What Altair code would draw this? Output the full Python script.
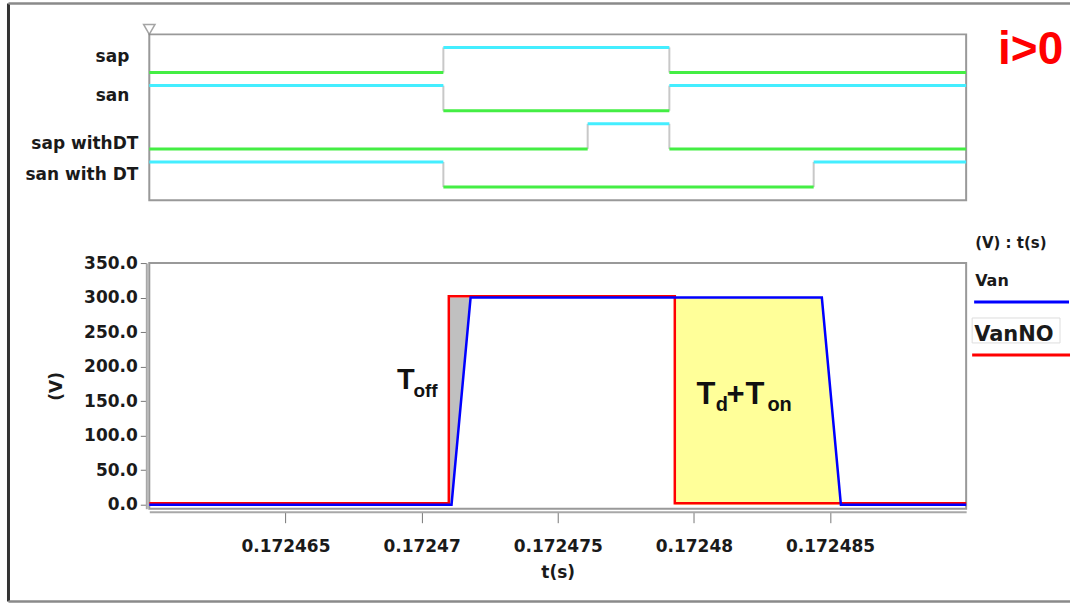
import altair as alt
import pandas as pd

# ---------------------------------------------------------------- data
T0, T1 = 0.17246, 0.17249                      # visible time window (s)
x_ticks = [0.172465, 0.17247, 0.172475, 0.17248, 0.172485]
y_ticks = [0, 50, 100, 150, 200, 250, 300, 350]

# gate signals: initial state and switching instants (s)
signal_names = ["sap", "san", "sap withDT", "san with DT"]
signal_initial = [0, 1, 0, 1]
signal_edges = [
    [0.1724708, 0.1724791],
    [0.1724708, 0.1724791],
    [0.1724761, 0.1724791],
    [0.1724708, 0.1724844],
]

# phase voltage with real switching (Van) and ideal one (VanNO)
van_t = [0.17246, 0.1724711, 0.1724718, 0.1724847, 0.1724854, 0.17249]
van_v = [0, 0, 300, 300, 0, 0]
vanno_t = [0.17246, 0.172471, 0.172471, 0.1724793, 0.1724793, 0.17249]
vanno_v = [2, 2, 302, 302, 2, 2]

# shaded voltage-error areas: level, left edge (VanNO), right edge (Van)
shade_level = [0, 300]
toff_left = [0.172471, 0.172471]
toff_right = [0.1724711, 0.1724718]
tdon_left = [0.1724793, 0.1724793]
tdon_right = [0.1724854, 0.1724847]

# ---------------------------------------------------------------- layout constants
W = 818
TOP_H = 166
BOT_H = 246
ROW_STEP = 1.52          # vertical distance between gate traces (in trace units)
FONT = "DejaVu Sans"
GREEN = "#44ee44"
CYAN = "#44eeff"


def one_row():
    return pd.DataFrame({"k": [0]})


# ---------------------------------------------------------------- gate traces
seg_rows, edge_rows = [], []
for k, (name, s0, edges) in enumerate(zip(signal_names, signal_initial, signal_edges)):
    base = (len(signal_names) - 1 - k) * ROW_STEP
    times = [T0] + edges + [T1]
    state = s0
    for a, b in zip(times[:-1], times[1:]):
        seg_rows.append({"name": name, "t": a, "t2": b, "lvl": base + state, "state": state})
        state = 1 - state
    for e in edges:
        edge_rows.append({"name": name, "t": e, "lo": base, "hi": base + 1})
segs = pd.DataFrame(seg_rows)
edges_df = pd.DataFrame(edge_rows)

# label baselines inside each trace row
label_offset = [0.41, 0.38, -0.01, 0.28]
labels = pd.DataFrame({
    "name": signal_names,
    "lvl": [(len(signal_names) - 1 - k) * ROW_STEP + off for k, off in enumerate(label_offset)],
    "short": [len(n) < 5 for n in signal_names],
})

xs_top = alt.Scale(domain=[T0, T1], nice=False, zero=False)
ys_top = alt.Scale(domain=[-0.52, 3 * ROW_STEP + 1.52], nice=False, zero=False)

edge_layer = alt.Chart(edges_df).mark_rule(color="#c8c8c8", strokeWidth=2).encode(
    x=alt.X("t:Q", scale=xs_top, axis=None),
    y=alt.Y("lo:Q", scale=ys_top, axis=None),
    y2="hi:Q",
)
seg_layer = alt.Chart(segs).mark_rule(strokeWidth=3).encode(
    x=alt.X("t:Q", scale=xs_top, axis=None),
    x2="t2:Q",
    y=alt.Y("lvl:Q", scale=ys_top, axis=None),
    color=alt.Color("state:N", scale=alt.Scale(domain=[0, 1], range=[GREEN, CYAN]), legend=None),
)
label_short = alt.Chart(labels).transform_filter("datum.short").mark_text(
    align="right", baseline="alphabetic", font=FONT, fontWeight="bold", fontSize=17, color="#1a1a1a"
).encode(x=alt.value(-20), y=alt.Y("lvl:Q", scale=ys_top, axis=None), text="name:N")
label_long = alt.Chart(labels).transform_filter("!datum.short").mark_text(
    align="right", baseline="alphabetic", font=FONT, fontWeight="bold", fontSize=17, color="#1a1a1a"
).encode(x=alt.value(-11), y=alt.Y("lvl:Q", scale=ys_top, axis=None), text="name:N")

cursor = alt.Chart(pd.DataFrame({"t": [T0]})).mark_point(
    shape="triangle-down", size=130, filled=False, color="#808080", strokeWidth=1.5
).encode(x=alt.X("t:Q", scale=xs_top, axis=None), y=alt.value(-5))

case_label = alt.Chart(one_row()).mark_text(
    text="i>0", align="left", baseline="alphabetic", font="Liberation Sans",
    fontWeight="bold", fontSize=46, color="#ff0000"
).encode(x=alt.value(850), y=alt.value(30))

# outer frame of the figure
frame_left = alt.Chart(one_row()).mark_rule(color="#333333", strokeWidth=3).encode(
    x=alt.value(-141), y=alt.value(-31), y2=alt.value(568))
frame_top = alt.Chart(one_row()).mark_rule(color="#8a8a8a", strokeWidth=2.5).encode(
    x=alt.value(-141), x2=alt.value(922), y=alt.value(-31))
frame_bottom = alt.Chart(one_row()).mark_rule(color="#8a8a8a", strokeWidth=2.5).encode(
    x=alt.value(-141), x2=alt.value(922), y=alt.value(568))

top = alt.layer(
    frame_left, frame_top, frame_bottom,
    edge_layer, seg_layer, label_short, label_long, cursor, case_label,
).properties(width=W, height=TOP_H)

# ---------------------------------------------------------------- voltage panel
xs = alt.Scale(domain=[T0, T1], nice=False, zero=False)
ys = alt.Scale(domain=[-5.8, 350], nice=False, zero=False)

x_axis = alt.Axis(
    values=x_ticks, format=".6~g", title="t(s)", offset=3, tickSize=11, tickColor="#777777",
    domainColor="#a8a8a8", domainWidth=2, labelPadding=16, titlePadding=10, grid=False,
    labelOverlap=False,
    labelFont=FONT, labelFontWeight="bold", labelFontSize=17, labelColor="#1a1a1a",
    titleFont=FONT, titleFontWeight="bold", titleFontSize=17, titleColor="#1a1a1a",
)
y_axis = alt.Axis(
    values=y_ticks, format=".1f", title="(V)", offset=3, tickSize=6, tickColor="#777777",
    domainColor="#a8a8a8", domainWidth=2, labelPadding=3, titlePadding=18, grid=False,
    labelOverlap=False,
    labelFont=FONT, labelFontWeight="bold", labelFontSize=17, labelColor="#1a1a1a",
    titleFont=FONT, titleFontWeight="bold", titleFontSize=17, titleColor="#1a1a1a",
)


def x_enc(field):
    return alt.X(f"{field}:Q", scale=xs, axis=x_axis)


def y_enc(field):
    return alt.Y(f"{field}:Q", scale=ys, axis=y_axis)


toff_df = pd.DataFrame({"v": shade_level, "lo": toff_left, "hi": toff_right})
tdon_df = pd.DataFrame({"v": shade_level, "lo": tdon_left, "hi": tdon_right})

toff_area = alt.Chart(toff_df).mark_area(orient="horizontal", color="#c0c0c0", opacity=1).encode(
    y=y_enc("v"), x=x_enc("lo"), x2="hi:Q")
tdon_area = alt.Chart(tdon_df).mark_area(orient="horizontal", color="#ffff99", opacity=1).encode(
    y=y_enc("v"), x=x_enc("lo"), x2="hi:Q")

vanno_df = pd.DataFrame({"t": vanno_t, "v": vanno_v, "i": range(len(vanno_t))})
van_df = pd.DataFrame({"t": van_t, "v": van_v, "i": range(len(van_t))})

vanno_line = alt.Chart(vanno_df).mark_line(color="#ff0000", strokeWidth=2.5).encode(
    x=x_enc("t"), y=y_enc("v"), order="i:Q")
van_line = alt.Chart(van_df).mark_line(color="#0000ff", strokeWidth=2.5).encode(
    x=x_enc("t"), y=y_enc("v"), order="i:Q")

# interval annotations (text pieces anchored in data units)
notes = pd.DataFrame({
    "text": ["T", "off", "T", "d", "+", "T", "on"],
    "t": [0.1724691, 0.1724697, 0.1724801, 0.1724808, 0.1724812, 0.1724819, 0.1724827],
    "v": [168, 156, 146, 136, 146, 146, 136],
    "size": [29, 19, 31, 20, 31, 31, 20],
})
note_layer = alt.Chart(notes).mark_text(
    align="left", baseline="alphabetic", font="Liberation Sans", fontWeight="bold", color="#111111"
).encode(
    x=x_enc("t"), y=y_enc("v"),
    text="text:N", size=alt.Size("size:Q", scale=None, legend=None),
)

# series key on the right
def key_text(txt, x, y, size, weight="bold"):
    return alt.Chart(one_row()).mark_text(
        text=txt, align="left", baseline="alphabetic", font=FONT, fontWeight=weight,
        fontSize=size, color="#1a1a1a"
    ).encode(x=alt.value(x), y=alt.value(y))

key_head = key_text("(V) : t(s)", 827, -15, 15)
key_van = key_text("Van", 827, 23, 16)
key_van_line = alt.Chart(one_row()).mark_rule(color="#0000ff", strokeWidth=3).encode(
    x=alt.value(826), x2=alt.value(921), y=alt.value(39))
key_box = alt.Chart(one_row()).mark_rect(fill="white", stroke="#dddddd", strokeWidth=1).encode(
    x=alt.value(824), x2=alt.value(912), y=alt.value(55), y2=alt.value(80))
key_vanno = key_text("VanNO", 826, 78, 21)
key_vanno_line = alt.Chart(one_row()).mark_rule(color="#ff0000", strokeWidth=3).encode(
    x=alt.value(824), x2=alt.value(922), y=alt.value(92))

bottom = alt.layer(
    toff_area, tdon_area, vanno_line, van_line, note_layer,
    key_head, key_van, key_van_line, key_box, key_vanno, key_vanno_line,
).properties(width=W, height=BOT_H)

chart = alt.vconcat(top, bottom, spacing=63, bounds="flush").properties(
    padding={"left": 5.5, "top": 0, "right": 0, "bottom": 0}
).configure(font=FONT).configure_view(stroke="#999999", strokeWidth=2)

chart.save("out.html", embed_options={"renderer": "svg", "actions": False})
